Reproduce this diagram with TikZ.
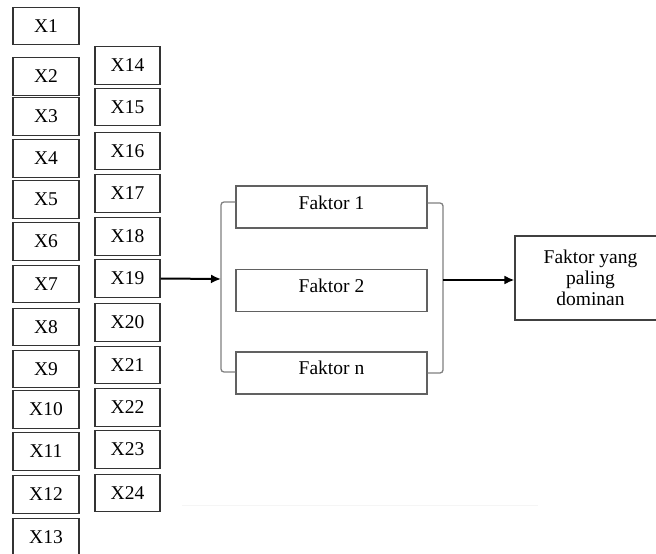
\documentclass[tikz,border=0pt]{standalone}
\usepackage{fontspec}
\setmainfont{Liberation Serif}
\usetikzlibrary{arrows.meta}
\begin{document}
\begin{tikzpicture}[x=1pt,y=-1pt,
  txt/.style={font=\fontsize{19.5}{21}\selectfont},
  xbox/.style={txt,draw=black!80,line width=1.4pt,minimum width=66pt,minimum height=37.5pt,inner sep=0pt},
  fbox/.style={txt,draw=black!62,line width=1.2pt,minimum width=191pt,minimum height=42pt,inner sep=0pt},
  dbox/.style={txt,draw=black!75,line width=1.1pt,minimum width=151pt,minimum height=84pt,inner sep=0pt,align=center},
  brk/.style={draw=black!50,line width=1.3pt,rounded corners=3pt},
  arr/.style={draw=black,line width=2pt,-{Latex[length=10pt,width=9pt]}},
  faint/.style={draw=black!4,line width=1pt}]
\useasboundingbox (0,0) rectangle (656,554);
% left column
\node[xbox] (x1) at (46,26) {X1};
\node[xbox] (x2) at (46,76.5) {X2};
\node[xbox] (x3) at (46,116.5) {X3};
\node[xbox] (x4) at (46,158.5) {X4};
\node[xbox] (x5) at (46,199.5) {X5};
\node[xbox] (x6) at (46,241.5) {X6};
\node[xbox] (x7) at (46,284) {X7};
\node[xbox] (x8) at (46,327) {X8};
\node[xbox] (x9) at (46,369) {X9};
\node[xbox] (x10) at (46,409.5) {X10};
\node[xbox] (x11) at (46,451.5) {X11};
\node[xbox] (x12) at (46,494.5) {X12};
\node[xbox] (x13) at (46,537) {X13};
% right column
\node[xbox,minimum width=65pt] (x14) at (127.5,65.5) {X14};
\node[xbox,minimum width=65pt] (x15) at (127.5,107) {X15};
\node[xbox,minimum width=65pt] (x16) at (127.5,151) {X16};
\node[xbox,minimum width=65pt] (x17) at (127.5,193.5) {X17};
\node[xbox,minimum width=65pt] (x18) at (127.5,236.5) {X18};
\node[xbox,minimum width=65pt] (x19) at (127.5,278.5) {X19};
\node[xbox,minimum width=65pt] (x20) at (127.5,322.5) {X20};
\node[xbox,minimum width=65pt] (x21) at (127.5,365) {X21};
\node[xbox,minimum width=65pt] (x22) at (127.5,407.5) {X22};
\node[xbox,minimum width=65pt] (x23) at (127.5,449.5) {X23};
\node[xbox,minimum width=65pt] (x24) at (127.5,493) {X24};
% factor boxes
\node[fbox] (f1) at (331.5,207) {\raisebox{4.5pt}[\height][\depth]{Faktor 1}};
\node[fbox] (f2) at (331.5,290.5) {\raisebox{5pt}[\height][\depth]{Faktor 2}};
\node[fbox] (fn) at (331.5,373) {\raisebox{5pt}[\height][\depth]{Faktor n}};
% result box
\node[dbox] (dom) at (590.5,278) {Faktor yang\\paling\\dominan};
% brackets
\coordinate (lb) at (221,279);
\coordinate (rb) at (443,280);
\draw[brk] ([yshift=5pt]f1.west) -| (lb) |- ([yshift=1pt]fn.west);
\draw[brk] ([yshift=4pt]f1.east) -| (rb) |- (fn.east);
% arrows
\draw[arr] (x19.east) -- (lb);
\draw[arr] (rb) -- (rb -| dom.west);
% faint line
\coordinate (fa) at (182,505);
\coordinate (fb) at (538,505);
\draw[faint] (fa) -- (fb);
\end{tikzpicture}
\end{document}
